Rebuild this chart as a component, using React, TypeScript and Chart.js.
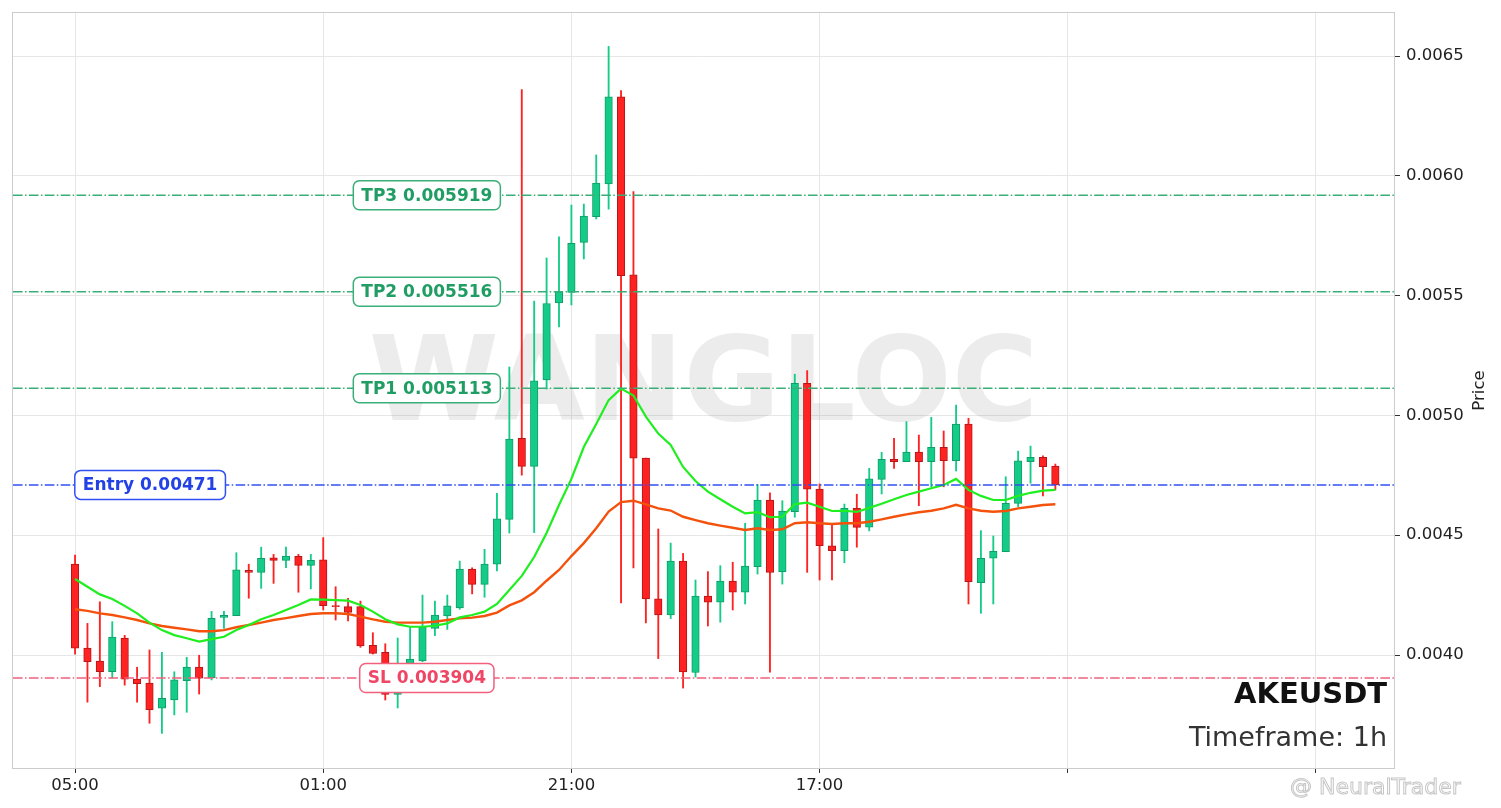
import React, { useEffect, useRef } from 'react';
import { Chart, registerables } from 'chart.js';

Chart.register(...registerables);

// hourly candles, index 0 = 05:00
const timeLabels = ['05:00', '01:00', '21:00', '17:00', '', ''];
const timeTicks = [0, 20, 40, 60, 80, 100];
const priceTicks = [0.004, 0.0045, 0.005, 0.0055, 0.006, 0.0065];

const opens = [
  0.004380, 0.004029, 0.003975, 0.003930, 0.004071, 0.003900, 0.003883, 0.003778, 0.003813, 0.003893,
  0.003950, 0.003905, 0.004157, 0.004164, 0.004353, 0.004345, 0.004406, 0.004395, 0.004412, 0.004374,
  0.004397, 0.004206, 0.004202, 0.004202, 0.004040, 0.004011, 0.003836, 0.003871, 0.003975, 0.004111,
  0.004163, 0.004197, 0.004359, 0.004295, 0.004379, 0.004566, 0.004904, 0.004787, 0.005148, 0.005469,
  0.005513, 0.005722, 0.005829, 0.005966, 0.006330, 0.005587, 0.004822, 0.004234, 0.004167, 0.004392,
  0.003927, 0.004246, 0.004220, 0.004309, 0.004262, 0.004369, 0.004647, 0.004348, 0.004598, 0.005134,
  0.004692, 0.004456, 0.004435, 0.004612, 0.004534, 0.004733, 0.004817, 0.004807, 0.004847, 0.004807,
  0.004867, 0.004811, 0.004964, 0.004302, 0.004404, 0.004431, 0.004633, 0.004807, 0.004825, 0.004789,
];
const highs = [
  0.004417, 0.004132, 0.004222, 0.004139, 0.004082, 0.003949, 0.004021, 0.004011, 0.003930, 0.003990,
  0.003999, 0.004182, 0.004182, 0.004427, 0.004379, 0.004450, 0.004420, 0.004450, 0.004420, 0.004420,
  0.004490, 0.004285, 0.004237, 0.004225, 0.004093, 0.004047, 0.004071, 0.004118, 0.004250, 0.004225,
  0.004250, 0.004392, 0.004364, 0.004441, 0.004675, 0.005202, 0.006360, 0.005477, 0.005657, 0.005745,
  0.005878, 0.005882, 0.006087, 0.006540, 0.006356, 0.005934, 0.004822, 0.004526, 0.004467, 0.004424,
  0.004313, 0.004348, 0.004373, 0.004387, 0.004550, 0.004712, 0.004677, 0.004644, 0.005172, 0.005187,
  0.004714, 0.004545, 0.004630, 0.004671, 0.004779, 0.004846, 0.004904, 0.004974, 0.004918, 0.004992,
  0.004935, 0.005043, 0.004988, 0.004519, 0.004497, 0.004744, 0.004851, 0.004872, 0.004831, 0.004797,
];
const lows = [
  0.004004, 0.003803, 0.003868, 0.003903, 0.003874, 0.003803, 0.003715, 0.003673, 0.003750, 0.003761,
  0.003837, 0.003896, 0.004111, 0.004164, 0.004237, 0.004278, 0.004299, 0.004364, 0.004262, 0.004276,
  0.004188, 0.004146, 0.004142, 0.004032, 0.004004, 0.003812, 0.003779, 0.003854, 0.003972, 0.004081,
  0.004107, 0.004191, 0.004255, 0.004241, 0.004351, 0.004509, 0.004751, 0.004511, 0.005110, 0.005369,
  0.005461, 0.005653, 0.005820, 0.005861, 0.004217, 0.004363, 0.004134, 0.003985, 0.004152, 0.003862,
  0.003908, 0.004121, 0.004137, 0.004188, 0.004213, 0.004338, 0.003928, 0.004296, 0.004575, 0.004345,
  0.004313, 0.004313, 0.004385, 0.004450, 0.004518, 0.004672, 0.004779, 0.004807, 0.004623, 0.004702,
  0.004702, 0.004768, 0.004213, 0.004174, 0.004213, 0.004431, 0.004619, 0.004717, 0.004664, 0.004689,
];
const closes = [
  0.004029, 0.003972, 0.003930, 0.004075, 0.003899, 0.003880, 0.003772, 0.003819, 0.003896, 0.003950,
  0.003903, 0.004153, 0.004166, 0.004355, 0.004345, 0.004404, 0.004395, 0.004413, 0.004374, 0.004395,
  0.004206, 0.004202, 0.004178, 0.004038, 0.004007, 0.003836, 0.003871, 0.003983, 0.004118, 0.004167,
  0.004205, 0.004359, 0.004295, 0.004380, 0.004568, 0.004901, 0.004787, 0.005144, 0.005467, 0.005516,
  0.005718, 0.005832, 0.005970, 0.006330, 0.005583, 0.004822, 0.004234, 0.004167, 0.004392, 0.003929,
  0.004246, 0.004220, 0.004309, 0.004262, 0.004371, 0.004647, 0.004345, 0.004601, 0.005134, 0.004692,
  0.004456, 0.004435, 0.004612, 0.004533, 0.004735, 0.004817, 0.004807, 0.004847, 0.004807, 0.004867,
  0.004811, 0.004964, 0.004306, 0.004404, 0.004433, 0.004633, 0.004810, 0.004825, 0.004786, 0.004710,
];
const emaFast = [
  0.004317, 0.004285, 0.004253, 0.004234, 0.004205, 0.004174, 0.004135, 0.004104, 0.004083, 0.004070,
  0.004056, 0.004066, 0.004076, 0.004104, 0.004125, 0.004149, 0.004167, 0.004188, 0.004209, 0.004232,
  0.004231, 0.004229, 0.004227, 0.004209, 0.004181, 0.004149, 0.004128, 0.004118, 0.004118, 0.004122,
  0.004132, 0.004157, 0.004167, 0.004181, 0.004213, 0.004271, 0.004330, 0.004409, 0.004509, 0.004626,
  0.004735, 0.004868, 0.004964, 0.005064, 0.005112, 0.005083, 0.004995, 0.004924, 0.004877, 0.004785,
  0.004726, 0.004682, 0.004650, 0.004619, 0.004591, 0.004596, 0.004575, 0.004577, 0.004630, 0.004636,
  0.004619, 0.004601, 0.004602, 0.004597, 0.004614, 0.004631, 0.004650, 0.004668, 0.004682, 0.004696,
  0.004710, 0.004735, 0.004689, 0.004664, 0.004647, 0.004647, 0.004664, 0.004677, 0.004686, 0.004689,
];
const emaSlow = [
  0.004191, 0.004184, 0.004174, 0.004167, 0.004157, 0.004146, 0.004132, 0.004121, 0.004114, 0.004107,
  0.004099, 0.004099, 0.004104, 0.004116, 0.004125, 0.004135, 0.004146, 0.004154, 0.004163, 0.004171,
  0.004174, 0.004174, 0.004171, 0.004160, 0.004149, 0.004139, 0.004135, 0.004135, 0.004135, 0.004139,
  0.004146, 0.004153, 0.004156, 0.004163, 0.004177, 0.004207, 0.004228, 0.004262, 0.004310, 0.004355,
  0.004413, 0.004467, 0.004529, 0.004599, 0.004638, 0.004644, 0.004629, 0.004612, 0.004603, 0.004577,
  0.004563, 0.004550, 0.004540, 0.004531, 0.004522, 0.004529, 0.004522, 0.004525, 0.004550, 0.004554,
  0.004550, 0.004547, 0.004550, 0.004550, 0.004556, 0.004566, 0.004577, 0.004587, 0.004596, 0.004602,
  0.004612, 0.004627, 0.004612, 0.004602, 0.004598, 0.004601, 0.004612, 0.004619, 0.004626, 0.004629,
];

const levelNames = ['TP3', 'TP2', 'TP1', 'Entry', 'SL'];
const levelValues = [0.005919, 0.005516, 0.005113, 0.00471, 0.003904];

const symbol = 'AKEUSDT';
const timeframe = 'Timeframe: 1h';

const FONT = '"DejaVu Sans", sans-serif';
const UP = '#14cc88';
const UP_EDGE = '#0e9e68';
const DOWN = '#ff2222';
const DOWN_EDGE = '#b51616';

const levelStyles: Record<string, { line: string; text: string; at: number }> = {
  TP3: { line: '#3aae78', text: '#1f9d63', at: 28.35 },
  TP2: { line: '#3aae78', text: '#1f9d63', at: 28.35 },
  TP1: { line: '#3aae78', text: '#1f9d63', at: 28.35 },
  Entry: { line: '#3050f5', text: '#2342e6', at: 6.05 },
  SL: { line: '#f2607e', text: '#ef4666', at: 28.35 },
};

const overlay = {
  id: 'overlay',
  beforeDatasetsDraw(chart: any) {
    const { ctx, chartArea: a } = chart;
    ctx.save();
    ctx.font = `bold 118px ${FONT}`;
    ctx.fillStyle = 'rgba(128,128,128,0.15)';
    ctx.textAlign = 'center';
    ctx.textBaseline = 'alphabetic';
    ctx.fillText('WANGLOC', (a.left + a.right) / 2, 420);
    ctx.restore();
  },
  afterDatasetsDraw(chart: any) {
    const { ctx, chartArea: a, scales } = chart;
    ctx.save();
    ctx.beginPath();
    ctx.rect(a.left, a.top, a.right - a.left, a.bottom - a.top);
    ctx.clip();
    levelValues.forEach((v, i) => {
      const st = levelStyles[levelNames[i]];
      const y = scales.y.getPixelForValue(v);
      ctx.strokeStyle = st.line;
      ctx.lineWidth = 1.5;
      ctx.setLineDash([9.6, 2.4, 1.5, 2.4]);
      ctx.beginPath();
      ctx.moveTo(a.left, y);
      ctx.lineTo(a.right, y);
      ctx.stroke();
    });
    ctx.setLineDash([]);
    ctx.font = `bold 17px ${FONT}`;
    ctx.textAlign = 'center';
    ctx.textBaseline = 'middle';
    levelValues.forEach((v, i) => {
      const st = levelStyles[levelNames[i]];
      const text = `${levelNames[i]} ${v}`;
      const y = scales.y.getPixelForValue(v);
      const cx = scales.x.getPixelForValue(st.at);
      const w = ctx.measureText(text).width + 16;
      const h = 29;
      ctx.beginPath();
      ctx.roundRect(cx - w / 2, y - h / 2, w, h, 6);
      ctx.fillStyle = '#ffffff';
      ctx.fill();
      ctx.strokeStyle = st.line;
      ctx.lineWidth = 1.5;
      ctx.stroke();
      ctx.fillStyle = st.text;
      ctx.fillText(text, cx, y + 1);
    });
    ctx.restore();
  },
  afterDraw(chart: any) {
    const { ctx, chartArea: a } = chart;
    ctx.save();
    ctx.strokeStyle = '#cccccc';
    ctx.lineWidth = 1;
    ctx.strokeRect(a.left - 0.5, a.top - 0.5, a.right - a.left + 1, a.bottom - a.top + 1);

    ctx.textAlign = 'right';
    ctx.textBaseline = 'alphabetic';
    ctx.fillStyle = '#111111';
    ctx.font = `bold 29px ${FONT}`;
    ctx.fillText(symbol, a.right - 7, 703);
    ctx.fillStyle = '#333333';
    ctx.font = `27px ${FONT}`;
    ctx.fillText(timeframe, a.right - 7, 746);

    ctx.save();
    ctx.translate(1480, (a.top + a.bottom) / 2);
    ctx.rotate(-Math.PI / 2);
    ctx.textAlign = 'center';
    ctx.textBaseline = 'middle';
    ctx.fillStyle = '#222222';
    ctx.font = `16.5px ${FONT}`;
    ctx.fillText('Price', 0, 0);
    ctx.restore();

    ctx.textAlign = 'left';
    ctx.font = `22px ${FONT}`;
    ctx.fillStyle = 'rgba(255,255,255,0.7)';
    ctx.strokeStyle = 'rgba(150,150,150,0.55)';
    ctx.lineWidth = 1;
    ctx.fillText('@ NeuralTrader', 1290, 794);
    ctx.strokeText('@ NeuralTrader', 1290, 794);
    ctx.restore();
  },
};

export default function App() {
  const canvasRef = useRef<HTMLCanvasElement>(null);
  const chartRef = useRef<Chart | null>(null);

  useEffect(() => {
    if (!canvasRef.current) return;
    if (chartRef.current) chartRef.current.destroy();

    const isUp = closes.map((c, i) => c >= opens[i]);

    chartRef.current = new Chart(canvasRef.current, {
      type: 'bar',
      data: {
        datasets: [
          {
            type: 'line',
            label: 'EMA fast',
            data: emaFast.map((v, i) => ({ x: i, y: v })),
            borderColor: '#1fee1f',
            borderWidth: 2.2,
            pointRadius: 0,
            tension: 0,
            order: 0,
          },
          {
            type: 'line',
            label: 'EMA slow',
            data: emaSlow.map((v, i) => ({ x: i, y: v })),
            borderColor: '#f4520c',
            borderWidth: 2.4,
            pointRadius: 0,
            tension: 0,
            order: 0,
          },
          {
            type: 'bar',
            label: 'body',
            data: opens.map((o, i) => ({ x: i, y: [o, closes[i]] })) as any,
            backgroundColor: isUp.map((u) => (u ? UP : DOWN)),
            borderColor: isUp.map((u) => (u ? UP_EDGE : DOWN_EDGE)),
            borderWidth: 1,
            borderSkipped: false,
            barThickness: 7.5,
            grouped: false,
            order: 1,
          },
          {
            type: 'bar',
            label: 'wick',
            data: lows.map((l, i) => ({ x: i, y: [l, highs[i]] })) as any,
            backgroundColor: isUp.map((u) => (u ? UP : DOWN)),
            borderWidth: 0,
            barThickness: 1.2,
            grouped: false,
            order: 2,
          },
        ],
      },
      options: {
        responsive: false,
        animation: false,
        devicePixelRatio: 1,
        layout: { padding: { left: 13, top: 13, right: 0, bottom: 0 } },
        font: { family: FONT },
        scales: {
          x: {
            type: 'linear',
            offset: false,
            min: -5.0,
            max: 106.29,
            afterBuildTicks: (s: any) => {
              s.ticks = timeTicks.map((v) => ({ value: v }));
            },
            afterFit: (s: any) => {
              s.height = 40;
              s.paddingLeft = 0;
              s.paddingRight = 0;
            },
            ticks: {
              callback: (_v: any, idx: number) => timeLabels[idx],
              font: { family: FONT, size: 16.5 },
              color: '#222222',
              padding: 3,
              maxRotation: 0,
              autoSkip: false,
            },
            grid: { offset: false, color: '#e6e6e6', tickColor: '#333333', tickLength: 5 },
            border: { display: false },
          },
          y: {
            type: 'linear',
            position: 'right',
            min: 0.0035284,
            max: 0.0066795,
            afterBuildTicks: (s: any) => {
              s.ticks = priceTicks.map((v) => ({ value: v }));
            },
            afterFit: (s: any) => {
              s.width = 107;
              s.paddingTop = 0;
              s.paddingBottom = 0;
            },
            ticks: {
              callback: (v: any) => Number(v).toFixed(4),
              font: { family: FONT, size: 16.5 },
              color: '#222222',
              padding: 6,
            },
            grid: { color: '#e6e6e6', tickColor: '#333333', tickLength: 6 },
            border: { display: false },
          },
        },
        plugins: {
          legend: { display: false },
          tooltip: { enabled: false },
        },
      },
      plugins: [overlay],
    } as any);

    return () => {
      if (chartRef.current) chartRef.current.destroy();
      chartRef.current = null;
    };
  }, []);

  return (
    <div style={{ position: 'fixed', left: 0, top: 0, width: 1501, height: 808, background: '#ffffff' }}>
      <canvas ref={canvasRef} width={1501} height={808} style={{ width: 1501, height: 808 }} />
    </div>
  );
}
